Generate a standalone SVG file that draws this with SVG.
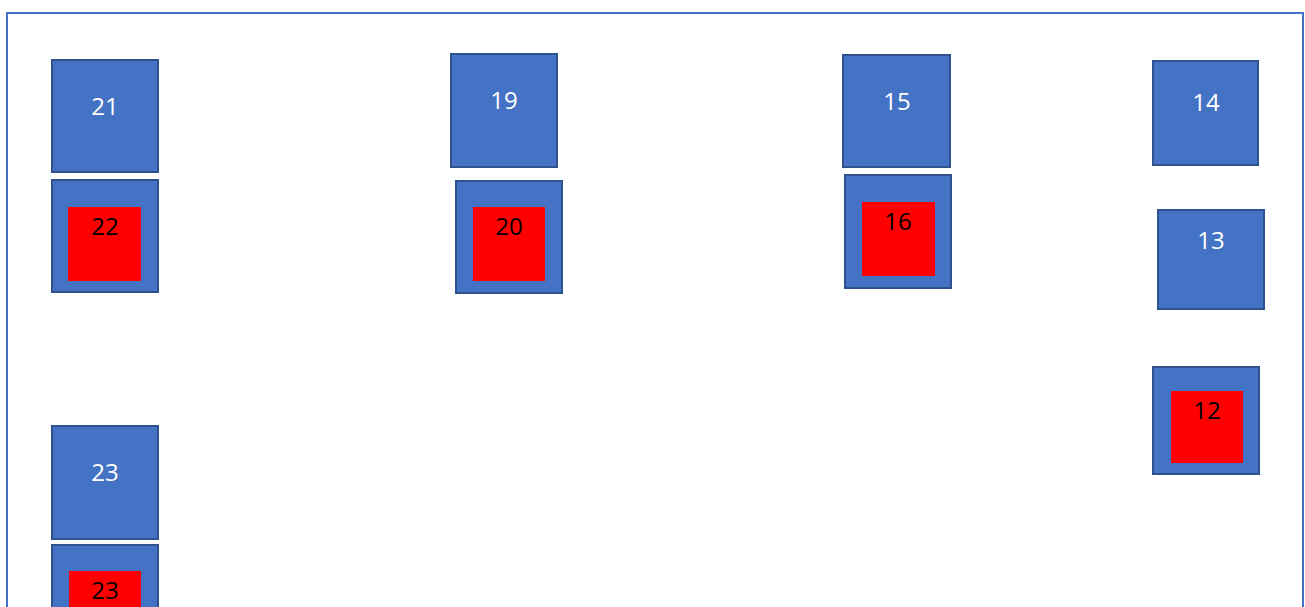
<svg xmlns="http://www.w3.org/2000/svg" width="1305" height="607" viewBox="0 0 1305 607">
<style>
.b{fill:#4472C4;stroke:#2F528F;stroke-width:2}
.r{fill:#FF0000}
text{font-family:"Open Sans","Liberation Sans",sans-serif;font-size:24px;text-anchor:middle}
.w{fill:#FFFFFF}
.k{fill:#000000}
</style>
<rect x="0" y="0" width="1305" height="607" fill="#FFFFFF"/>
<rect id="frame" x="7" y="13" width="1296" height="600" fill="none" stroke="#4472C4" stroke-width="2"/>
<g id="connectors"></g>
<g id="n21"><rect class="b" x="52" y="60" width="106" height="112"/><text class="w" x="105" y="115">21</text></g>
<g id="n22"><rect class="b" x="52" y="180" width="106" height="112"/><rect class="r" x="68" y="207" width="73" height="74"/><text class="k" x="105" y="235">22</text></g>
<g id="n19"><rect class="b" x="451" y="54" width="106" height="113"/><text class="w" x="504" y="109">19</text></g>
<g id="n20"><rect class="b" x="456" y="181" width="106" height="112"/><rect class="r" x="473" y="207" width="72" height="74"/><text class="k" x="509" y="235">20</text></g>
<g id="n15"><rect class="b" x="843" y="55" width="107" height="112"/><text class="w" x="897" y="110">15</text></g>
<g id="n16"><rect class="b" x="845" y="175" width="106" height="113"/><rect class="r" x="862" y="202" width="73" height="74"/><text class="k" x="898" y="230">16</text></g>
<g id="n14"><rect class="b" x="1153" y="61" width="105" height="104"/><text class="w" x="1206" y="111">14</text></g>
<g id="n13"><rect class="b" x="1158" y="210" width="106" height="99"/><text class="w" x="1211" y="249">13</text></g>
<g id="n12"><rect class="b" x="1153" y="367" width="106" height="107"/><rect class="r" x="1171" y="391" width="72" height="72"/><text class="k" x="1207" y="419">12</text></g>
<g id="n23"><rect class="b" x="52" y="426" width="106" height="113"/><text class="w" x="105" y="481">23</text></g>
<g id="n23b"><rect class="b" x="52" y="545" width="106" height="80"/><rect class="r" x="69" y="571" width="72" height="50"/><text class="k" x="105" y="599">23</text></g>
</svg>
